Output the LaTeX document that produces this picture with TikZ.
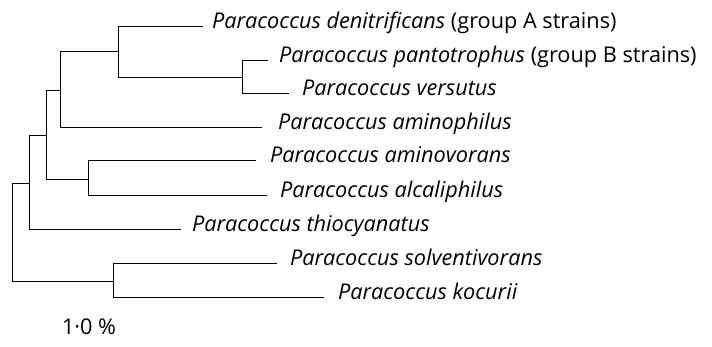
\documentclass[tikz,border=0pt]{standalone}
\usepackage{fontspec}
\setmainfont{Open Sans}
\begin{document}
\begin{tikzpicture}[x=1pt,y=-1pt,line width=0.8pt,
  taxon/.style={anchor=west,inner xsep=0pt,inner ysep=0pt,outer sep=0pt,
    text height=0.7em,text depth=0.15em,font=\fontsize{21.7}{24}\selectfont}]
\useasboundingbox (0,0) rectangle (712,346);
\node[taxon] (denit) at (203,26) {\hspace{9pt}\textit{Paracoccus denitrificans} (group A strains)};
\node[taxon] (panto) at (268,60) {\hspace{11pt}\textit{Paracoccus pantotrophus} (group B strains)};
\node[taxon] (versu) at (289,93) {\hspace{13pt}\textit{Paracoccus versutus}};
\node[taxon] (amphi) at (262,127) {\hspace{16pt}\textit{Paracoccus aminophilus}};
\node[taxon] (amvor) at (256,160) {\hspace{14pt}\textit{Paracoccus aminovorans}};
\node[taxon] (alcal) at (267,195) {\hspace{13pt}\textit{Paracoccus alcaliphilus}};
\node[taxon] (thioc) at (181,229) {\hspace{11pt}\textit{Paracoccus thiocyanatus}};
\node[taxon] (solve) at (277,263) {\hspace{13pt}\textit{Paracoccus solventivorans}};
\node[taxon] (kocur) at (324,297) {\hspace{14pt}\textit{Paracoccus kocurii}};
\node[taxon,anchor=west] (scale) at (62,332) {1·0 \%};
\coordinate (root) at (12,232);
\coordinate (n6) at (29,183);
\coordinate (n5) at (46,135);
\coordinate (n3) at (60,90);
\coordinate (n1) at (118,51);
\coordinate (n2) at (242,77);
\coordinate (n4) at (88,179);
\coordinate (n7) at (113,281);
\draw (root) |- (n6);
\draw (root) |- (n7);
\draw (n6) |- (n5);
\draw (n6) |- (thioc.west);
\draw (n5) |- (n3);
\draw (n5) |- (n4);
\draw (n3) |- (n1);
\draw (n3) |- (amphi.west);
\draw (n1) |- (denit.west);
\draw (n1) |- (n2);
\draw (n2) |- (panto.west);
\draw (n2) |- (versu.west);
\draw (n4) |- (amvor.west);
\draw (n4) |- (alcal.west);
\draw (n7) |- (solve.west);
\draw (n7) |- (kocur.west);
\end{tikzpicture}
\end{document}
